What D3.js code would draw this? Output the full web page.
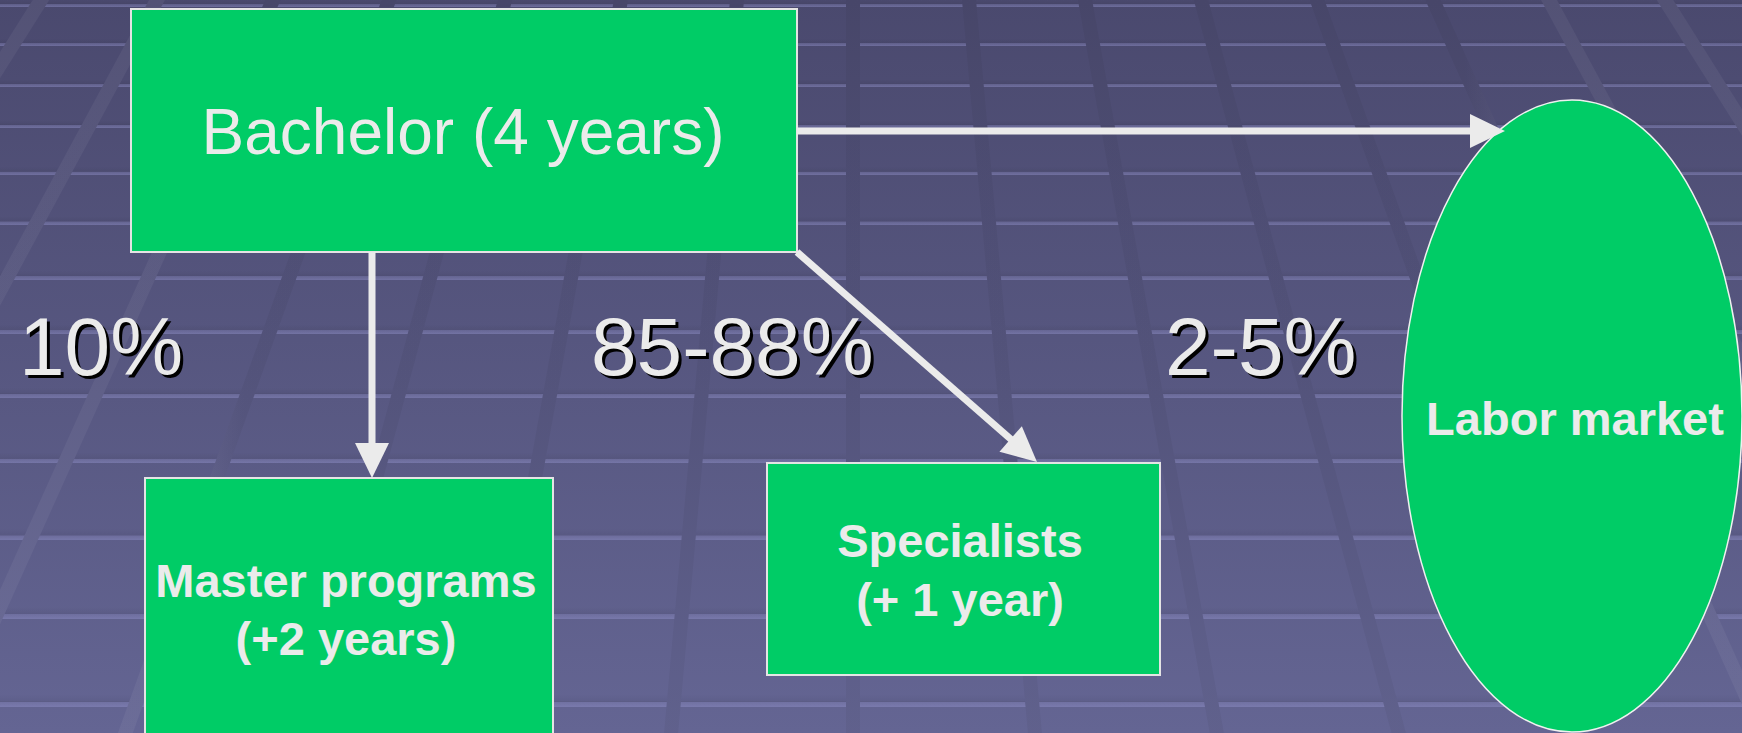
<!DOCTYPE html>
<html>
<head>
<meta charset="utf-8">
<script src="https://cdn.jsdelivr.net/npm/d3@7"></script>
<style>
  body { margin: 0; background: #4a496e; overflow: hidden; }
  svg { display: block; }
</style>
</head>
<body>
<script>
const width = 1742, height = 733;

// diagram content
const nodeIds = ["bachelor", "master", "specialists", "labor"];
const nodeLines = [
  ["Bachelor (4 years)"],
  ["Master programs", "(+2 years)"],
  ["Specialists", "(+ 1 year)"],
  ["Labor market"]
];
const edgeSources = ["bachelor", "bachelor", "bachelor"];
const edgeTargets = ["master", "specialists", "labor"];
const shareLabels = ["10%", "85-88%", "2-5%"];

// background floor: y of the light stripes, fan of lines to a vanishing point
const rowY = [7, 46, 87, 128, 175, 225, 280, 334, 398, 463, 540, 619, 707];
const fanSteps = d3.range(-8, 9);
const vanish = { x: 853, depth: 1290, step: 116 };

// where things sit on the slide
const layout = {
  bachelor:    { shape: "rect", x0: 131, y0: 9, x1: 797, y1: 252, size: 64, weight: "normal", tx: 463, ty: [154] },
  master:      { shape: "rect", x0: 145, y0: 478, x1: 553, y1: 760, size: 47, weight: "bold", tx: 346, ty: [597, 655] },
  specialists: { shape: "rect", x0: 767, y0: 463, x1: 1160, y1: 675, size: 47, weight: "bold", tx: 960, ty: [557, 616] },
  labor:       { shape: "ellipse", cx: 1572, cy: 416, rx: 170, ry: 316, size: 47, weight: "bold", tx: 1575, ty: [435] }
};
const edgeEnds = {
  "bachelor>master": [[372, 252], [372, 478]],
  "bachelor>specialists": [[797, 252], [1037, 462]],
  "bachelor>labor": [[797, 131], [1505, 131]]
};
const labelAt = [[19, 375], [591, 375], [1165, 375]];

const font = "'Liberation Sans', Arial, sans-serif";
const green = "#00cc66", ink = "#ebebeb";

const svg = d3.select("body").append("svg")
  .attr("width", width)
  .attr("height", height);

const defs = svg.append("defs");

const bg = defs.append("linearGradient")
  .attr("id", "bg")
  .attr("gradientUnits", "userSpaceOnUse")
  .attr("x1", 0).attr("y1", 0).attr("x2", 0).attr("y2", height);
bg.append("stop").attr("offset", "0%").attr("stop-color", "#4a496e");
bg.append("stop").attr("offset", "100%").attr("stop-color", "#646593");

// each stripe: faint shade above, light edge below
const stripe = defs.append("linearGradient")
  .attr("id", "stripe")
  .attr("x1", 0).attr("y1", 0).attr("x2", 0).attr("y2", 1);
[[0, "#000", 0], [0.55, "#000", 0.05], [0.62, "#9090c8", 0.3], [1, "#9090c8", 0.5]].forEach(([o, c, a]) => {
  stripe.append("stop").attr("offset", o).attr("stop-color", c).attr("stop-opacity", a);
});

// fan lines look darker near the middle and lighter at the sides
const tint = defs.append("linearGradient")
  .attr("id", "tint")
  .attr("gradientUnits", "userSpaceOnUse")
  .attr("x1", 0).attr("y1", 0).attr("x2", width).attr("y2", 0);
[[0, "#fff", 0.05], [0.11, "#fff", 0.05], [0.14, "#000", 0.045],
 [0.84, "#000", 0.045], [0.87, "#fff", 0.05], [1, "#fff", 0.05]].forEach(([o, c, a]) => {
  tint.append("stop").attr("offset", o).attr("stop-color", c).attr("stop-opacity", a);
});

// Background
svg.append("rect").attr("width", width).attr("height", height).attr("fill", "url(#bg)");

const stripeH = (y) => 7 + 6 * y / height;
svg.append("g").selectAll("rect")
  .data(rowY)
  .enter()
  .append("rect")
  .attr("x", 0)
  .attr("width", width)
  .attr("y", (y) => y - stripeH(y))
  .attr("height", stripeH)
  .attr("fill", "url(#stripe)");

const fanX = (k, y) => vanish.x + k * vanish.step * (vanish.depth + y) / vanish.depth;
const fan = svg.append("g");
["url(#bg)", "url(#tint)"].forEach((stroke) => {
  fan.append("g").selectAll("line")
    .data(fanSteps)
    .enter()
    .append("line")
    .attr("x1", (k) => fanX(k, -10)).attr("y1", -10)
    .attr("x2", (k) => fanX(k, height + 10)).attr("y2", height + 10)
    .attr("stroke", stroke)
    .attr("stroke-width", 14);
});

// Nodes
const nodes = nodeIds.map((id, i) => Object.assign({ id, lines: nodeLines[i] }, layout[id]));

const nodeG = svg.append("g").selectAll("g")
  .data(nodes)
  .enter()
  .append("g");

nodeG.filter((d) => d.shape === "rect")
  .append("rect")
  .attr("x", (d) => d.x0).attr("y", (d) => d.y0)
  .attr("width", (d) => d.x1 - d.x0).attr("height", (d) => d.y1 - d.y0)
  .attr("fill", green)
  .attr("stroke", "#e4e4e4")
  .attr("stroke-width", 2);

nodeG.filter((d) => d.shape === "ellipse")
  .append("ellipse")
  .attr("cx", (d) => d.cx).attr("cy", (d) => d.cy)
  .attr("rx", (d) => d.rx).attr("ry", (d) => d.ry)
  .attr("fill", green)
  .attr("stroke", "#f0f0f0")
  .attr("stroke-width", 1.5);

nodeG.each(function (d) {
  d3.select(this).selectAll("text")
    .data(d.lines)
    .enter()
    .append("text")
    .attr("x", d.tx)
    .attr("y", (t, i) => d.ty[i])
    .attr("text-anchor", "middle")
    .attr("font-family", font)
    .attr("font-size", d.size)
    .attr("font-weight", d.weight)
    .attr("fill", ink)
    .text((t) => t);
});

// Edges with arrow heads
const headLen = 35, headHalf = 17;
const edges = edgeSources.map((s, i) => {
  const [p0, p1] = edgeEnds[s + ">" + edgeTargets[i]];
  const dx = p1[0] - p0[0], dy = p1[1] - p0[1];
  const len = Math.hypot(dx, dy);
  const ux = dx / len, uy = dy / len;
  const bx = p1[0] - ux * headLen, by = p1[1] - uy * headLen;
  return {
    p0, base: [bx + ux * 2, by + uy * 2],
    head: [p1, [bx - uy * headHalf, by + ux * headHalf], [bx + uy * headHalf, by - ux * headHalf]]
  };
});

const edgeG = svg.append("g").selectAll("g")
  .data(edges)
  .enter()
  .append("g");

edgeG.append("line")
  .attr("x1", (d) => d.p0[0]).attr("y1", (d) => d.p0[1])
  .attr("x2", (d) => d.base[0]).attr("y2", (d) => d.base[1])
  .attr("stroke", ink)
  .attr("stroke-width", 7);

edgeG.append("path")
  .attr("d", (d) => d3.line()(d.head) + "Z")
  .attr("fill", ink);

// Share labels with a drop shadow
const labelG = svg.append("g")
  .attr("font-family", font)
  .attr("font-size", 82);

[["#000", 3], [ink, 0]].forEach(([fill, off]) => {
  labelG.append("g").selectAll("text")
    .data(shareLabels)
    .enter()
    .append("text")
    .attr("x", (d, i) => labelAt[i][0] + off)
    .attr("y", (d, i) => labelAt[i][1] + off)
    .attr("fill", fill)
    .text((d) => d);
});
</script>
</body>
</html>
